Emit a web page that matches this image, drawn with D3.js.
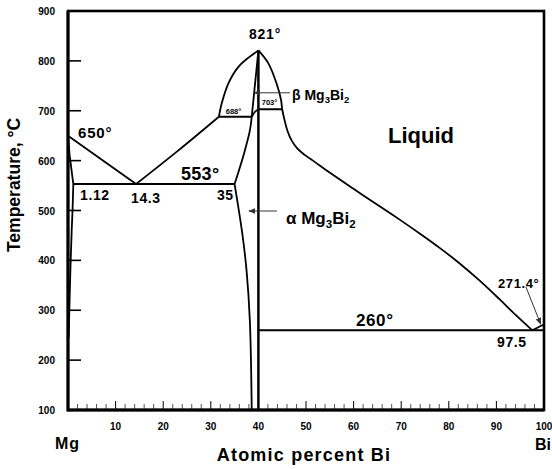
<!DOCTYPE html>
<html>
<head>
<meta charset="utf-8">
<script src="https://cdn.jsdelivr.net/npm/d3@7/dist/d3.min.js"></script>
<style>
  html, body { margin: 0; padding: 0; background: #fff; }
  svg { display: block; }
  text { font-family: "Liberation Sans", Arial, sans-serif; font-weight: bold; fill: #000; }
</style>
</head>
<body>
<svg id="chart" width="552" height="469"></svg>
<script>
// Mg–Bi phase diagram: composition in atomic percent Bi, temperature in °C

const xTickLabels = [10, 20, 30, 40, 50, 60, 70, 80, 90, 100];
const yTickLabels = [100, 200, 300, 400, 500, 600, 700, 800, 900];

// Phase boundaries as [at.% Bi, °C]
const liquidusMg        = [[0, 650], [14.3, 553]];
const liquidusAlpha     = [[14.3, 553], [23, 619], [31.7, 688]];
const liquidusBetaLeft  = [[31.7, 688], [32.3, 715], [33.7, 755], [35.8, 788], [38, 807], [40, 821]];
const liquidusRight     = [[40, 821], [42.1, 795], [43.8, 755], [44.75, 722], [45.0, 703], [45.5, 681],
                           [46.1, 660], [47.0, 640], [48.2, 624], [49.8, 611], [51.9, 597], [54.35, 580],
                           [59.9, 544], [65.55, 508], [69.75, 481.2], [73.95, 453.5], [78.15, 424.6],
                           [82.35, 393.3], [86.55, 358.8], [90.75, 321.2], [94.1, 290.1], [97.5, 260]];
const liquidusBi        = [[97.5, 260], [99, 267], [100, 271.4]];
const solidusMg         = [[0, 650], [0.35, 610], [1.12, 553]];
const solvusMg          = [[1.12, 553], [0.95, 500], [0.78, 461], [0.5, 380], [0.28, 300], [0.15, 245]];
const solidusAlpha      = [[35, 553], [37.0, 615], [38.2, 660], [38.6, 688]];
const solvusAlpha       = [[35, 553], [36.6, 455], [37.5, 381], [38.2, 280], [38.6, 100]];
const solidusBeta       = [[40, 821], [38.6, 688]];
const alphaBetaBoundary = [[38.6, 688], [39.3, 698], [40, 703]];
const compoundLine      = [[40, 100], [40, 821]];

// Invariant reactions: [from at.%, to at.%, °C]
const isotherms = [
  [1.12, 35, 553],
  [31.7, 38.6, 688],
  [40, 45.0, 703],
  [40, 100, 260]
];

const svg = d3.select("#chart");
const x = d3.scaleLinear().domain([0, 100]).range([68, 544]);
const y = d3.scaleLinear().domain([100, 900]).range([410, 11]);

const smooth = d3.line().x(d => x(d[0])).y(d => y(d[1])).curve(d3.curveCatmullRom.alpha(0.5));
const straight = d3.line().x(d => x(d[0])).y(d => y(d[1]));

// arrow marker for pointer lines
const defs = svg.append("defs");
defs.append("marker")
  .attr("id", "arrow")
  .attr("viewBox", "0 0 10 10")
  .attr("refX", 9).attr("refY", 5)
  .attr("markerWidth", 7).attr("markerHeight", 7)
  .attr("markerUnits", "userSpaceOnUse")
  .attr("orient", "auto")
  .append("path").attr("d", "M0,1 L10,5 L0,9 Z").attr("fill", "#333");

// tick marks
const g = svg.append("g");
const minorX = d3.range(2, 100, 2).filter(v => v % 10 !== 0);
g.selectAll(".xminor").data(minorX).join("line")
  .attr("x1", d => x(d)).attr("x2", d => x(d))
  .attr("y1", y(100)).attr("y2", y(100) - 6)
  .attr("stroke", "#555").attr("stroke-width", 1);
g.selectAll(".xmajor").data(xTickLabels.filter(v => v < 100)).join("line")
  .attr("x1", d => x(d)).attr("x2", d => x(d))
  .attr("y1", y(100)).attr("y2", y(100) - 9)
  .attr("stroke", "#000").attr("stroke-width", 1);
g.selectAll(".ymajor").data(yTickLabels.filter(v => v > 100 && v < 900)).join("line")
  .attr("x1", x(0)).attr("x2", x(0) + 13)
  .attr("y1", d => y(d)).attr("y2", d => y(d))
  .attr("stroke", "#000").attr("stroke-width", 1.6);

// tick labels
g.selectAll(".ylab").data(yTickLabels).join("text")
  .attr("x", 55).attr("y", d => y(d) + 4)
  .attr("text-anchor", "end").attr("font-size", 10)
  .text(d => d);
g.selectAll(".xlab").data(xTickLabels).join("text")
  .attr("x", d => x(d)).attr("y", 430)
  .attr("text-anchor", "middle").attr("font-size", 10)
  .text(d => d);

// phase boundaries
const lines = svg.append("g").attr("fill", "none").attr("stroke", "#000").attr("stroke-linejoin", "round");
[liquidusAlpha, liquidusBetaLeft, liquidusRight, liquidusBi, solvusMg, solidusAlpha, solvusAlpha, alphaBetaBoundary]
  .forEach(d => lines.append("path").attr("d", smooth(d)).attr("stroke-width", 1.8));
[liquidusMg, solidusMg, solidusBeta]
  .forEach(d => lines.append("path").attr("d", straight(d)).attr("stroke-width", 1.8));
lines.append("path").attr("d", straight(compoundLine)).attr("stroke-width", 2.5);
lines.selectAll(".iso").data(isotherms).join("line")
  .attr("x1", d => x(d[0])).attr("x2", d => x(d[1]))
  .attr("y1", d => y(d[2])).attr("y2", d => y(d[2]))
  .attr("stroke-width", 2);

// frame
const frame = svg.append("g").attr("stroke", "#000").attr("fill", "none");
frame.append("rect")
  .attr("x", x(0)).attr("y", y(900))
  .attr("width", x(100) - x(0)).attr("height", y(100) - y(900))
  .attr("stroke-width", 2.6);
frame.append("line").attr("x1", x(0)).attr("x2", x(0)).attr("y1", y(900)).attr("y2", y(100) + 1.5).attr("stroke-width", 3);
frame.append("line").attr("x1", x(0)).attr("x2", x(100)).attr("y1", y(100)).attr("y2", y(100)).attr("stroke-width", 3);

// pointer arrows
const ptr = svg.append("g").attr("stroke", "#333").attr("stroke-width", 1).attr("fill", "none");
ptr.append("line").attr("x1", x(43.9)).attr("y1", y(499)).attr("x2", x(38.0)).attr("y2", y(499)).attr("marker-end", "url(#arrow)");
ptr.append("line").attr("x1", x(46.6)).attr("y1", y(736)).attr("x2", x(39.1)).attr("y2", y(736)).attr("marker-end", "url(#arrow)");
ptr.append("line").attr("x1", x(96.2)).attr("y1", y(347)).attr("x2", x(99.3)).attr("y2", y(272)).attr("marker-end", "url(#arrow)");

// annotations
const ann = svg.append("g");
function label(txt, px, py, size, opts = {}) {
  return ann.append("text")
    .attr("x", px).attr("y", py)
    .attr("font-size", size)
    .attr("text-anchor", opts.anchor || "start")
    .attr("letter-spacing", opts.ls || 0)
    .text(txt);
}
label("650°", 78, 138, 15, { ls: 0.8 });
label("553°", 181, 180, 18, { ls: 0.3 });
label("821°", 265, 39, 14, { anchor: "middle", ls: 0.8 });
label("1.12", 80, 200, 14, { ls: 0.6 });
label("14.3", 131, 203, 14, { ls: 0.6 });
label("35", 217, 200, 14, { ls: 0.4 });
label("688°", 233.5, 113.5, 7.5, { anchor: "middle" });
label("703°", 269.5, 105, 7.5, { anchor: "middle" });
label("Liquid", 388, 143, 22);
label("260°", 356, 326, 17, { ls: 0.6 });
label("97.5", 497, 347, 14, { ls: 0.6 });
label("271.4°", 498, 287.5, 13, { ls: 0.6 });

function compoundLabel(prefix, px, py, size) {
  const t = ann.append("text").attr("x", px).attr("y", py).attr("font-size", size);
  t.append("tspan").text(prefix + " Mg");
  t.append("tspan").attr("font-size", size * 0.68).attr("dy", size * 0.22).text("3");
  t.append("tspan").attr("dy", -size * 0.22).text("Bi");
  t.append("tspan").attr("font-size", size * 0.68).attr("dy", size * 0.22).text("2");
  return t;
}
compoundLabel("β", 292, 100, 14);
compoundLabel("α", 286, 224, 17);

// axis titles
label("Mg", 55, 449, 16, { ls: 1 });
label("Bi", 535, 450, 16);
label("Atomic percent Bi", 304, 461, 18, { anchor: "middle", ls: 1.2 });
ann.append("text")
  .attr("transform", "translate(20,185) rotate(-90)")
  .attr("text-anchor", "middle").attr("font-size", 17.5)
  .text("Temperature, °C");
</script>
</body>
</html>
